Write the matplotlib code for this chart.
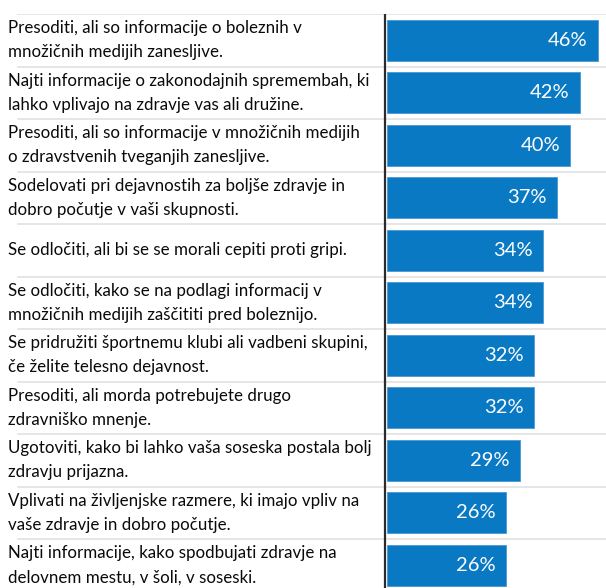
import matplotlib.pyplot as plt

labels = [
    "Presoditi, ali so informacije o boleznih v\nmnožičnih medijih zanesljive.",
    "Najti informacije o zakonodajnih spremembah, ki\nlahko vplivajo na zdravje vas ali družine.",
    "Presoditi, ali so informacije v množičnih medijih\no zdravstvenih tveganjih zanesljive.",
    "Sodelovati pri dejavnostih za boljše zdravje in\ndobro počutje v vaši skupnosti.",
    "Se odločiti, ali bi se se morali cepiti proti gripi.",
    "Se odločiti, kako se na podlagi informacij v\nmnožičnih medijih zaščititi pred boleznijo.",
    "Se pridružiti športnemu klubi ali vadbeni skupini,\nče želite telesno dejavnost.",
    "Presoditi, ali morda potrebujete drugo\nzdravniško mnenje.",
    "Ugotoviti, kako bi lahko vaša soseska postala bolj\nzdravju prijazna.",
    "Vplivati na življenjske razmere, ki imajo vpliv na\nvaše zdravje in dobro počutje.",
    "Najti informacije, kako spodbujati zdravje na\ndelovnem mestu, v šoli, v soseski.",
]
values = [46, 42, 40, 37, 34, 34, 32, 32, 29, 26, 26]

bar_color = "#0979C4"
grid_color = "#E2E2E2"

fig = plt.figure(figsize=(6.06, 5.88), dpi=100)
ax = fig.add_axes([0, 0, 1, 1 - 14 / 588])

px = 4.59  # pixels per percent
x0 = 385
ax.set_xlim(-x0 / px, (606 - x0) / px)
n_rows = (588 - 14) / 52.5
ax.set_ylim(-0.5 + n_rows, -0.5)
ax.axis("off")

ypos = list(range(len(values)))
ax.barh(ypos, values, height=0.79, color=bar_color, left=0.4,
        edgecolor="#4A97D2", linewidth=0.6)

for i in range(len(values) + 1):
    ax.plot([-80, 60], [i - 0.5, i - 0.5], color=grid_color, lw=1.2, zorder=0)

ax.axvline(0, color="#2b2b2b", lw=1.6, zorder=3)

for y, lab, v in zip(ypos, labels, values):
    ax.text(-x0 / px + 8 / px, y, lab, ha="left", va="center", fontsize=12.2,
            family="Lato", linespacing=1.6, color="#0a0a0a")
    ax.text(v - 1.8, y, f"{v}%", ha="right", va="center", fontsize=14.5,
            family="Lato", color="white")

fig.savefig("out.png", dpi=100)
